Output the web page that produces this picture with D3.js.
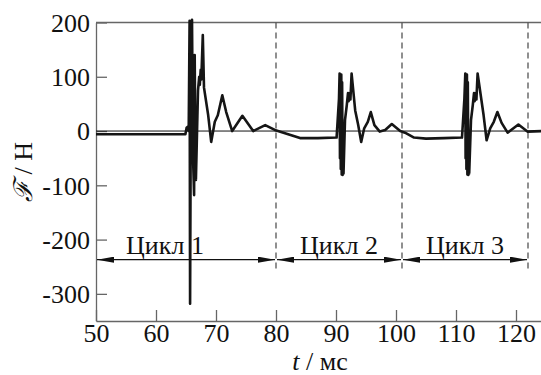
<!DOCTYPE html>
<html>
<head>
<meta charset="utf-8">
<script src="https://cdn.jsdelivr.net/npm/d3@7"></script>
<style>
  body { margin: 0; background: #fff; }
  svg text { font-family: "Liberation Serif", "Times New Roman", Tinos, "DejaVu Serif", serif; }
</style>
</head>
<body>
<svg width="541" height="375"></svg>
<script>
// force signal, t in ms, F in N
const time = [
  50, 55, 60, 64.9, 65.1, 65.3, 65.45, 65.6, 65.68, 65.8, 65.9, 66.0, 66.1, 66.2, 66.35, 66.45, 66.55, 66.65, 66.8,
  67.0, 67.2, 67.3, 67.45, 67.55, 67.8, 68.0, 68.7, 69.2, 69.8, 70.3, 71.05, 71.7, 72.7, 74.4,
  76.2, 78.2, 79.8, 81.5, 84, 87, 90.1,
  90.5, 90.6, 90.66, 90.72, 90.8, 90.88, 90.95, 91.02, 91.1, 91.18, 91.25,
  91.5, 91.8, 92.0, 92.1, 92.3, 92.4, 92.6, 93.2, 93.7,
  94.2, 94.7, 95.3, 95.8, 96.4, 97.3, 98.2, 99.3, 100.7, 101.5, 103, 105, 108, 111.0,
  111.4, 111.55, 111.6, 111.66, 111.74, 111.82, 111.9, 111.97, 112.05, 112.13, 112.2,
  112.5, 112.8, 113.0, 113.1, 113.3, 113.4,
  113.6, 114.6, 115.1, 115.7, 116.3, 116.9, 117.6, 118.6, 120.4, 121.9, 124.5
];
const force = [
  -6, -6, -6, -6, 6, 8, 0, 203, -318, 30, 180, 205, 60, -60, -118, 140, -30, -90, -20,
  75, 100, 85, 113, 95, 177, 80, 29, -20, 17, 29, 66, 35, 0, 28,
  0, 11, 2, -4, -13, -13, -12,
  60, 106, -50, 100, -70, 104, -80, 90, -81, -60, -78,
  20, 48, 70, 55, 70, 58, 106, 38, 11,
  -20, 5, 17, 35, 11, -1, 2, 13, 0, -3, -12, -14, -13, -12,
  60, 106, -50, 100, -70, 104, -80, 90, -81, -60, -78,
  20, 48, 70, 55, 70, 58,
  106, 29, -17, 5, 17, 35, 15, -3, 12, -1, 0
];

const xTicks = [50, 60, 70, 80, 90, 100, 110, 120];
const yTicks = [200, 100, 0, -100, -200, -300];
const cycleNames = ["Цикл 1", "Цикл 2", "Цикл 3"];
const cycleStart = [50, 80, 101];
const cycleEnd = [80, 101, 122];
const cycleLabelT = [61.5, 90.5, 111.5];
const cycleArrowF = -237;
const dashT = [80, 101, 122];

const serif = "'Liberation Serif', 'Times New Roman', Tinos, 'DejaVu Serif', serif";

const svg = d3.select("svg");
const x = d3.scaleLinear().domain([50, 124.5]).range([96, 543]);
const y = d3.scaleLinear().domain([-350, 200]).range([321, 22.5]);

const axisColor = "#666";

// arrow heads
const defs = svg.append("defs");
defs.append("marker")
  .attr("id", "ah")
  .attr("viewBox", "0 0 17 6")
  .attr("refX", 17).attr("refY", 3)
  .attr("markerWidth", 17).attr("markerHeight", 6)
  .attr("markerUnits", "userSpaceOnUse")
  .attr("orient", "auto-start-reverse")
  .append("path").attr("d", "M0,0 L17,3 L0,6 Z").attr("fill", "#111");

// frame
svg.append("line")
  .attr("x1", x(50)).attr("x2", 541).attr("y1", y(200)).attr("y2", y(200))
  .attr("stroke", axisColor).attr("stroke-width", 1.3);

const xAxis = svg.append("g")
  .attr("transform", `translate(0,${y(-350)})`)
  .call(d3.axisBottom(x).tickValues(xTicks).tickFormat(d => String(d))
    .tickSizeInner(-11).tickSizeOuter(0).tickPadding(17));
const yAxis = svg.append("g")
  .attr("transform", `translate(${x(50)},0)`)
  .call(d3.axisLeft(y).tickValues(yTicks).tickFormat(d => String(d))
    .tickSizeInner(-11).tickSizeOuter(0).tickPadding(6));

[xAxis, yAxis].forEach(g => {
  g.attr("font-family", serif).attr("font-size", 26);
  g.select(".domain").attr("stroke", axisColor).attr("stroke-width", 1.3);
  g.selectAll(".tick line").attr("stroke", axisColor).attr("stroke-width", 1.3);
  g.selectAll(".tick text").attr("fill", "#111");
});
xAxis.selectAll(".tick text").attr("dy", "0.16em");
yAxis.selectAll(".tick text").attr("dy", "0.34em");

// zero line
svg.append("line")
  .attr("x1", x(50)).attr("x2", 541).attr("y1", y(0)).attr("y2", y(0))
  .attr("stroke", "#111").attr("stroke-width", 1);

// cycle boundaries
svg.selectAll(".dash").data(dashT).enter().append("line")
  .attr("class", "dash")
  .attr("x1", d => x(d)).attr("x2", d => x(d))
  .attr("y1", y(200)).attr("y2", y(-255))
  .attr("stroke", "#555").attr("stroke-width", 1.3)
  .attr("stroke-dasharray", "6,4");

// cycle arrows
svg.selectAll(".cyc").data(cycleNames).enter().append("line")
  .attr("class", "cyc")
  .attr("x1", (d, i) => x(cycleStart[i]) + 1).attr("x2", (d, i) => x(cycleEnd[i]) - 1)
  .attr("y1", y(cycleArrowF)).attr("y2", y(cycleArrowF))
  .attr("stroke", "#111").attr("stroke-width", 1.3)
  .attr("marker-start", "url(#ah)").attr("marker-end", "url(#ah)");

svg.selectAll(".cyclabel").data(cycleNames).enter().append("text")
  .attr("class", "cyclabel")
  .attr("x", (d, i) => x(cycleLabelT[i]))
  .attr("y", y(cycleArrowF) - 6)
  .attr("text-anchor", "middle")
  .attr("font-family", serif)
  .attr("font-size", 26)
  .attr("fill", "#111")
  .text(d => d);

// signal
const pts = time.map((t, i) => [t, force[i]]);
svg.append("path")
  .datum(pts)
  .attr("d", d3.line().x(d => x(d[0])).y(d => y(d[1])))
  .attr("fill", "none")
  .attr("stroke", "#151515")
  .attr("stroke-width", 2.6)
  .attr("stroke-linejoin", "round");

// axis titles
const xt = svg.append("text")
  .attr("x", 320).attr("y", 370)
  .attr("text-anchor", "middle")
  .attr("font-family", serif)
  .attr("font-size", 26)
  .attr("fill", "#111");
xt.append("tspan").attr("font-style", "italic").text("t");
xt.append("tspan").text(" / мс");

const yt = svg.append("text")
  .attr("transform", "translate(32,172) rotate(-90)")
  .attr("text-anchor", "middle")
  .attr("font-family", serif)
  .attr("font-size", 26)
  .attr("fill", "#111");
yt.append("tspan").attr("font-style", "italic").text("ℱ");
yt.append("tspan").text(" / Н");
</script>
</body>
</html>
